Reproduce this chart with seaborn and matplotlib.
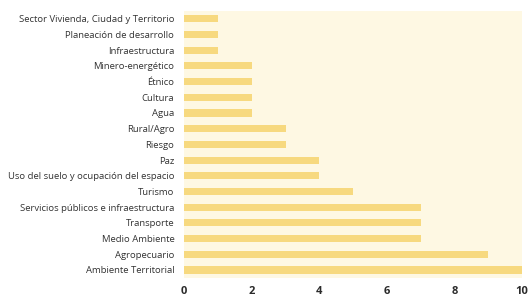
import matplotlib
matplotlib.use("Agg")
import matplotlib.pyplot as plt
import seaborn as sns
import pandas as pd

categories = [
    "Sector Vivienda, Ciudad y Territorio",
    "Planeación de desarrollo",
    "Infraestructura",
    "Minero-energético",
    "Étnico",
    "Cultura",
    "Agua",
    "Rural/Agro",
    "Riesgo",
    "Paz",
    "Uso del suelo y ocupación del espacio",
    "Turismo",
    "Servicios públicos e infraestructura",
    "Transporte",
    "Medio Ambiente",
    "Agropecuario",
    "Ambiente Territorial",
]
values = [1, 1, 1, 2, 2, 2, 2, 3, 3, 4, 4, 5, 7, 7, 7, 9, 10]
xticks = [0, 2, 4, 6, 8, 10]

df = pd.DataFrame({"categoria": categories, "valor": values})

sns.set_theme(style="white")
plt.rcParams["font.family"] = ["Open Sans", "DejaVu Sans"]

fig = plt.figure(figsize=(5.29, 3.03), dpi=100)
ax = fig.add_axes([0.348, 0.083, 0.639, 0.881])
sns.barplot(data=df, x="valor", y="categoria", orient="h", color="#f7d97f",
            width=0.45, saturation=1, linewidth=0, ax=ax)
ax.set_facecolor("#fef8e3")
ax.set_xlim(0, 10)
ax.set_ylim(len(categories) - 0.5, -0.5)
ax.set_xticks(xticks)
ax.set_xticklabels([str(t) for t in xticks], fontsize=8, fontweight="bold", color="#2b2b2b")
ax.tick_params(axis="y", labelsize=6.8, colors="#333333", length=0, pad=7)
ax.tick_params(axis="x", length=0, pad=6)
ax.set_xlabel("")
ax.set_ylabel("")
for s in ax.spines.values():
    s.set_visible(False)
fig.savefig("out.png", dpi=100, facecolor="white")
